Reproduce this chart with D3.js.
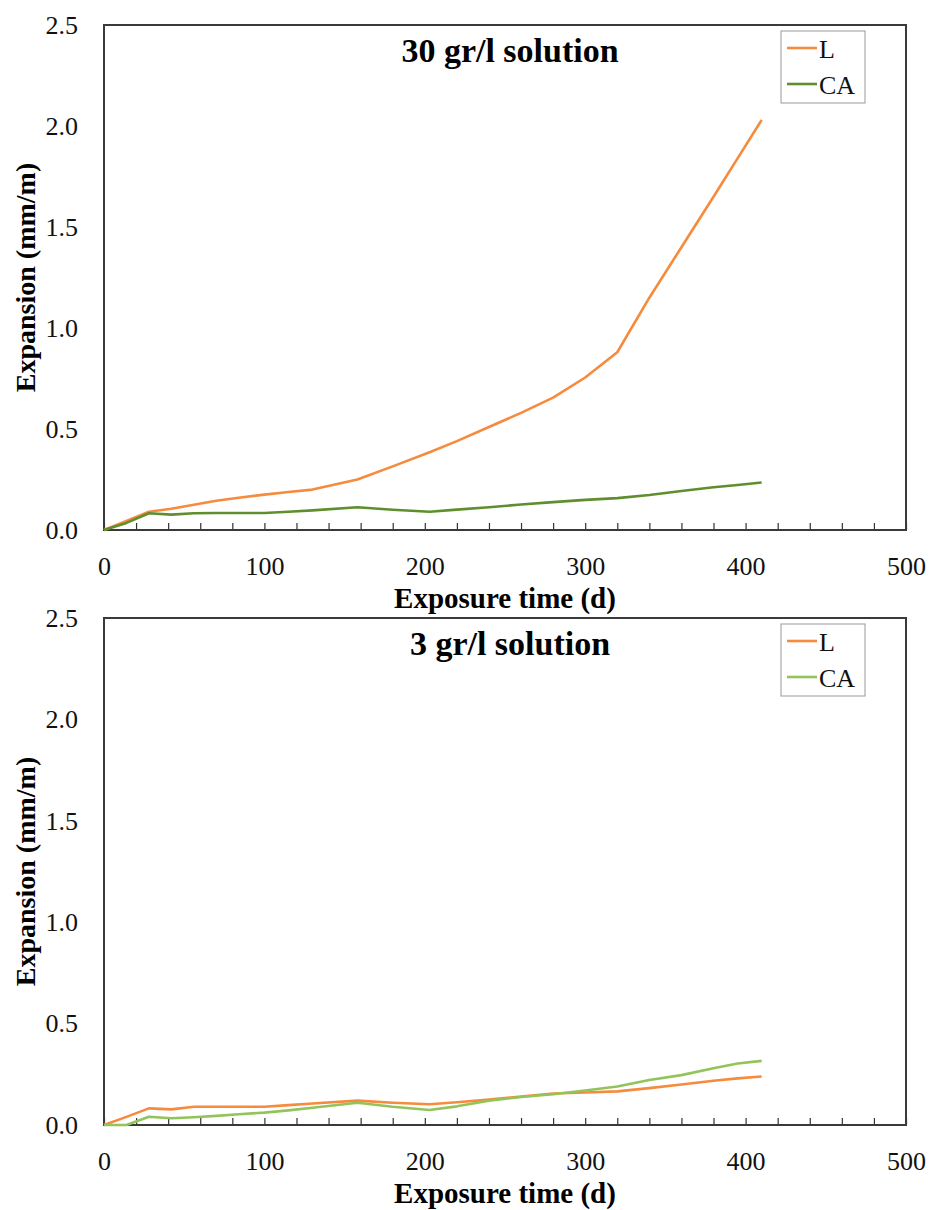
<!DOCTYPE html>
<html>
<head>
<meta charset="utf-8">
<script src="https://cdnjs.cloudflare.com/ajax/libs/d3/7.8.5/d3.min.js"></script>
<style>
    body { margin: 0; background: #fff; }
</style>
</head>
<body>
<div id="chart"></div>
<script>

var serif = "'Liberation Serif', 'Times New Roman', Times, 'DejaVu Serif', serif";

// exposure time (d)
var days = [0, 14, 28, 42, 56, 70, 84, 100, 115, 130, 158, 180, 203, 220, 240, 260, 280, 300, 320, 340, 360, 380, 395, 410];

// 30 gr/l solution
var topL  = [0, 0.045, 0.09, 0.105, 0.125, 0.145, 0.16, 0.175, 0.188, 0.2, 0.25, 0.315, 0.385, 0.44, 0.51, 0.58, 0.655, 0.755, 0.88, 1.15, 1.4, 1.65, 1.84, 2.03];
var topCA = [0, 0.035, 0.083, 0.076, 0.083, 0.084, 0.084, 0.084, 0.09, 0.097, 0.113, 0.1, 0.09, 0.101, 0.113, 0.126, 0.138, 0.149, 0.158, 0.173, 0.193, 0.212, 0.223, 0.235];

// 3 gr/l solution
var bottomL  = [0, 0.04, 0.082, 0.077, 0.09, 0.09, 0.09, 0.09, 0.098, 0.106, 0.12, 0.11, 0.102, 0.112, 0.125, 0.14, 0.155, 0.16, 0.166, 0.182, 0.2, 0.218, 0.23, 0.239];
var bottomCA = [0, 0, 0.041, 0.033, 0.038, 0.045, 0.053, 0.061, 0.072, 0.085, 0.11, 0.09, 0.074, 0.092, 0.12, 0.138, 0.152, 0.17, 0.19, 0.222, 0.246, 0.28, 0.303, 0.316];

var seriesNames = ["L", "CA"];
var yTicks = [0, 0.5, 1.0, 1.5, 2.0, 2.5];
var xTicks = d3.range(0, 501, 20);

var svg = d3.select("#chart").append("svg")
    .attr("width", 930)
    .attr("height", 1210);

ExpansionChart = function(_svg, _top, _height, _title, _series, _colors){
    this.svg = _svg;
    this.top = _top;
    this.height = _height;
    this.title = _title;
    this.series = _series;
    this.colors = _colors;

    this.initVis();
};

ExpansionChart.prototype.initVis = function() {
    var vis = this;

    vis.left = 104;
    vis.width = 802;

    vis.g = vis.svg.append("g")
        .attr("transform", "translate(" + vis.left + "," + vis.top + ")");

    vis.x = d3.scaleLinear()
        .domain([0, 500])
        .range([0, vis.width]);

    vis.y = d3.scaleLinear()
        .domain([0, 2.5])
        .range([vis.height, 0]);

    // x axis, small ticks pointing inside
    vis.xAxis = d3.axisBottom(vis.x)
        .tickValues(xTicks)
        .tickSize(-7)
        .tickSizeOuter(0)
        .tickPadding(27)
        .tickFormat(function(d) { return d % 100 === 0 ? d : ""; });

    vis.yAxis = d3.axisLeft(vis.y)
        .tickValues(yTicks)
        .tickSize(0)
        .tickPadding(26)
        .tickFormat(d3.format(".1f"));

    var xg = vis.g.append("g")
        .attr("class", "axis x-axis")
        .attr("transform", "translate(0," + vis.height + ")")
        .call(vis.xAxis);
    xg.attr("font-family", null);
    xg.selectAll("text")
        .style("font-family", serif)
        .style("font-size", "26px")
        .style("fill", "#111");
    xg.select(".domain").remove();
    xg.selectAll("line").attr("stroke", "#333").attr("stroke-width", 1.2);

    var yg = vis.g.append("g")
        .attr("class", "axis y-axis")
        .call(vis.yAxis);
    yg.attr("font-family", null);
    yg.selectAll("text")
        .style("font-family", serif)
        .style("font-size", "26px")
        .style("fill", "#111");
    yg.select(".domain").remove();

    // plot frame
    vis.g.append("rect")
        .attr("width", vis.width)
        .attr("height", vis.height)
        .attr("fill", "none")
        .attr("stroke", "#3a3a3a")
        .attr("stroke-width", 2);

    vis.g.append("text")
        .attr("x", vis.width / 2 + 5)
        .attr("y", 37)
        .attr("text-anchor", "middle")
        .style("font-family", serif)
        .style("font-size", "34px")
        .style("font-weight", "bold")
        .text(vis.title);

    vis.g.append("text")
        .attr("x", vis.width / 2)
        .attr("y", vis.height + 78)
        .attr("text-anchor", "middle")
        .style("font-family", serif)
        .style("font-size", "29px")
        .style("font-weight", "bold")
        .text("Exposure time (d)");

    vis.g.append("text")
        .attr("transform", "translate(" + (35 - vis.left) + "," + (vis.height / 2) + ") rotate(-90)")
        .attr("text-anchor", "middle")
        .style("font-family", serif)
        .style("font-size", "28px")
        .style("font-weight", "bold")
        .text("Expansion (mm/m)");

    vis.lineFunction = d3.line()
        .x(function(d) { return vis.x(d.t); })
        .y(function(d) { return vis.y(d.v); });

    vis.updateVis();
};

ExpansionChart.prototype.updateVis = function() {
    var vis = this;

    vis.series.forEach(function(values, i) {
        var pts = days.map(function(t, j) { return { t: t, v: values[j] }; });
        vis.g.append("path")
            .attr("class", "line")
            .attr("d", vis.lineFunction(pts))
            .attr("fill", "none")
            .attr("stroke", vis.colors[i])
            .attr("stroke-width", 2.6)
            .attr("stroke-linejoin", "round");
    });

    // legend
    var lx = 677, ly = 6;
    var legend = vis.g.append("g")
        .attr("transform", "translate(" + lx + "," + ly + ")");

    legend.append("rect")
        .attr("width", 84)
        .attr("height", 72)
        .attr("fill", "#fff")
        .attr("stroke", "#999")
        .attr("stroke-width", 1);

    seriesNames.forEach(function(name, i) {
        var cy = 17 + i * 36;
        legend.append("line")
            .attr("x1", 6)
            .attr("x2", 36)
            .attr("y1", cy)
            .attr("y2", cy)
            .attr("stroke", vis.colors[i])
            .attr("stroke-width", 2.6);
        legend.append("text")
            .attr("x", 38)
            .attr("y", cy + 10)
            .style("font-family", serif)
            .style("font-size", "26px")
            .style("fill", "#111")
            .text(name);
    });
};

var topChart = new ExpansionChart(svg, 25, 505, "30 gr/l solution", [topL, topCA], ["#f68b3e", "#5f8f2d"]);
var bottomChart = new ExpansionChart(svg, 618, 507, "3 gr/l solution", [bottomL, bottomCA], ["#f68b3e", "#92c45a"]);

</script>
</body>
</html>
